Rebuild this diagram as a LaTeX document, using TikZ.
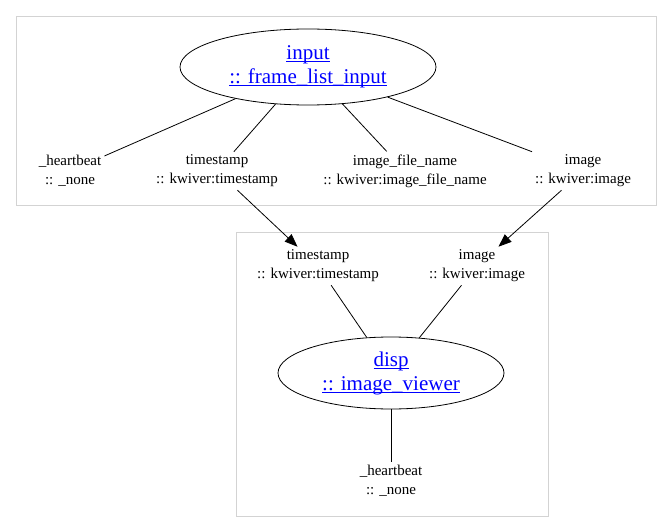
\documentclass[tikz,border=0pt]{standalone}
\usepackage{fontspec}
\setmainfont{Liberation Serif}
\usepackage{tikz}
\usetikzlibrary{shapes.geometric,arrows.meta}
\definecolor{clusterGray}{RGB}{211,211,211}
\definecolor{linkBlue}{RGB}{0,0,255}
\newsavebox{\lnkbox}
\newcommand{\lnk}[1]{\sbox{\lnkbox}{#1}\rlap{\usebox{\lnkbox}}\rule[-2.6pt]{\wd\lnkbox}{1pt}}

\begin{document}
\begin{tikzpicture}[x=1pt,y=-1pt,
    proc/.style={ellipse,draw,thick,align=center,text=linkBlue,
      font=\fontsize{21}{24}\selectfont},
    port/.style={align=center,inner sep=3pt,font=\fontsize{15}{19}\selectfont},
    cluster/.style={draw=clusterGray,thick},
    link/.style={thick},
    flow/.style={thick,-{Triangle[length=13pt,width=10pt]}}]
  \useasboundingbox (0,0) rectangle (672,532);
  % Clusters
  \draw[cluster] (16,16) rectangle (656,205);
  \draw[cluster] (236,232) rectangle (548,516);
  % input process
  \node[proc,minimum width=256,minimum height=76] (input) at (308,67)
    {\lnk{input}\\\lnk{:: frame\_list\_input}};
  \node[port] (inHb) at (70,171) {\_heartbeat\\:: \_none};
  \node[port] (inTs) at (217,171) {timestamp\\:: kwiver:timestamp};
  \node[port] (inFn) at (405,171) {image\_file\_name\\:: kwiver:image\_file\_name};
  \node[port] (inImg) at (583,171) {image\\:: kwiver:image};
  \draw[link] (input) -- (inHb);
  \draw[link] (input) -- (inTs);
  \draw[link] (input) -- (inFn);
  \draw[link] (input) -- (inImg);
  % disp process
  \node[port] (dispTs) at (318,266) {timestamp\\:: kwiver:timestamp};
  \node[port] (dispImg) at (477,266) {image\\:: kwiver:image};
  \node[proc,minimum width=226,minimum height=72] (disp) at (391,373)
    {\lnk{disp}\\\lnk{:: image\_viewer}};
  \node[port] (dispHb) at (391,481) {\_heartbeat\\:: \_none};
  \draw[link] (dispTs) -- (disp);
  \draw[link] (dispImg) -- (disp);
  \draw[link] (disp) -- (dispHb);
  % Connections
  \draw[flow] (inTs) -- (dispTs);
  \draw[flow] (inImg) -- (dispImg);
\end{tikzpicture}
\end{document}
